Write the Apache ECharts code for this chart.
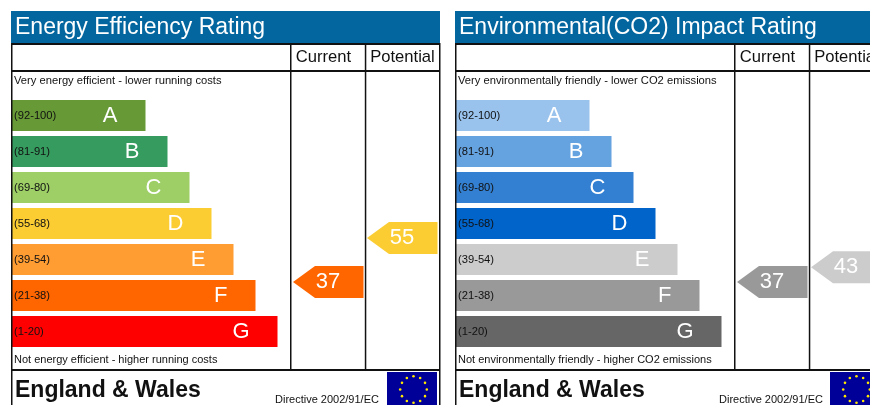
<!DOCTYPE html>
<html>
<head>
<meta charset="utf-8">
<style>
  html, body { margin: 0; padding: 0; background: #fff; overflow: hidden; }
  #chart { width: 870px; height: 405px; }
</style>
<script src="https://cdn.jsdelivr.net/npm/echarts@6/dist/echarts.min.js"></script>
</head>
<body>
<div id="chart"></div>
<script>
var font = '"Liberation Sans", Arial, sans-serif';

var ranges = ["(92-100)", "(81-91)", "(69-80)", "(55-68)", "(39-54)", "(21-38)", "(1-20)"];
var letters = ["A", "B", "C", "D", "E", "F", "G"];
var columns = ["Current", "Potential"];

var barLengths = [133.5, 155.5, 177.5, 199.5, 221.5, 243.5, 265.5];

var energyColors = ["#679a37", "#359b5e", "#9dcf66", "#fccd33", "#ff9d33", "#ff6600", "#ff0000"];
var impactColors = ["#99c3ed", "#65a2e0", "#3380d3", "#0064cb", "#cccccc", "#999999", "#666666"];

var energyScores = [37, 55];
var impactScores = [37, 43];
var energyScoreColors = ["#ff6600", "#fccd33"];
var impactScoreColors = ["#999999", "#cccccc"];

var energyTitle = "Energy Efficiency Rating";
var impactTitle = "Environmental(CO2) Impact Rating";
var energyTop = "Very energy efficient - lower running costs";
var energyBottom = "Not energy efficient - higher running costs";
var impactTop = "Very environmentally friendly - lower CO2 emissions";
var impactBottom = "Not environmentally friendly - higher CO2 emissions";
var country = "England & Wales";
var directive = "Directive 2002/91/EC";

var lineColor = "#111";

var myChart = echarts.init(document.getElementById("chart"));

function rect(x, y, w, h, fill, z) {
  return { type: "rect", silent: true, z: z || 10, shape: { x: x, y: y, width: w, height: h }, style: { fill: fill } };
}

function text(x, y, str, size, weight, fill) {
  return {
    type: "text", silent: true, z: 20, x: x, y: y,
    style: {
      text: str, fill: fill || "#111", font: (weight || "normal") + " " + size + "px " + font,
      textVerticalAlign: "middle"
    }
  };
}

// everything round the bars: heading band, table lines, captions and the flag
function panelGraphics(dx, title, topText, bottomText) {
  var right = dx === 0 ? 440 : 872;
  var list = [
    rect(11 + dx, 11, right - 11 - dx, 32, "#03669f"),
    rect(11 + dx, 43, right - 11 - dx, 2, lineColor),
    rect(11 + dx, 70, right - 11 - dx, 2, lineColor),
    rect(11 + dx, 369, right - 11 - dx, 2, lineColor),
    rect(11 + dx, 43, 1.5, 362, lineColor),
    rect(290 + dx, 43, 1.5, 327, lineColor),
    rect(364.8 + dx, 43, 1.5, 327, lineColor),
    text(15 + dx, 27.5, title, 23, "normal", "#fff"),
    text(14 + dx, 81, topText, 11.2),
    text(14 + dx, 360, bottomText, 11),
    text(15 + dx, 391, country, 23, "bold"),
    text(275 + dx, 399.5, directive, 11),
    rect(387 + dx - (dx ? 1 : 0), 372, 50, 34, "#000099")
  ];
  if (dx === 0) {
    list.push(rect(439, 43, 1.5, 362, lineColor));
  }
  var cx = 413.5 + dx - (dx ? 1 : 0), cy = 389.5;
  for (var i = 0; i < 12; i++) {
    var a = i * Math.PI / 6;
    list.push({
      type: "circle", silent: true, z: 20,
      shape: { cx: cx + 13.3 * Math.sin(a), cy: cy - 13.3 * Math.cos(a), r: 1.3 },
      style: { fill: "#ffe600" }
    });
  }
  return list;
}

function barSeries(index, colors) {
  return {
    type: "bar",
    xAxisIndex: index,
    yAxisIndex: index,
    barWidth: 31,
    silent: true,
    data: barLengths.map(function (v, i) {
      return {
        value: v,
        itemStyle: { color: colors[i] },
        label: { formatter: letters[i] }
      };
    }),
    label: {
      show: true,
      position: "insideRight",
      distance: 28,
      color: "#fff",
      fontFamily: font,
      fontSize: 22
    }
  };
}

// arrow pointing left, placed from the score axis of the column grid
function arrowSeries(index, scores, colors) {
  return {
    type: "custom",
    xAxisIndex: index,
    yAxisIndex: index,
    silent: true,
    clip: false,
    data: scores.map(function (s, i) { return [i, s]; }),
    renderItem: function (params, api) {
      var p = api.coord([api.value(0), api.value(1)]);
      return {
        type: "group",
        children: [
          {
            type: "polygon",
            shape: {
              points: [
                [p[0] - 35, p[1]],
                [p[0] - 13, p[1] - 16],
                [p[0] + 35.5, p[1] - 16],
                [p[0] + 35.5, p[1] + 16],
                [p[0] - 13, p[1] + 16]
              ]
            },
            style: { fill: colors[params.dataIndex] }
          },
          {
            type: "text",
            x: p[0],
            y: p[1],
            style: {
              text: String(api.value(1)),
              fill: "#fff",
              font: "22px " + font,
              textAlign: "center",
              textVerticalAlign: "middle"
            }
          }
        ]
      };
    }
  };
}

// Current sits a little left of the middle of its column in the reference
function columnAxis(gridIndex) {
  return {
    gridIndex: gridIndex, type: "category", position: "top",
    data: [
      { value: columns[0], textStyle: { padding: [0, 9, 0, 0] } },
      { value: columns[1], textStyle: { padding: [0, 0, 0, 1] } }
    ],
    axisLine: { show: false }, axisTick: { show: false },
    axisLabel: { margin: 6, color: "#111", fontFamily: font, fontSize: 16.6, interval: 0, hideOverlap: false }
  };
}

function rangeAxis(gridIndex) {
  return {
    gridIndex: gridIndex, type: "category", data: ranges, inverse: true, z: 5,
    axisLine: { show: false }, axisTick: { show: false },
    axisLabel: { inside: true, margin: 2, color: "#111", fontFamily: font, fontSize: 11.2, interval: 0 }
  };
}

var option = {
  animation: false,
  backgroundColor: "#fff",
  grid: [
    { left: 12, top: 97.5, width: 278, height: 252, outerBoundsMode: "none" },
    { left: 456, top: 97.5, width: 278, height: 252, outerBoundsMode: "none" },
    { left: 291, top: 72, width: 148, height: 297, outerBoundsMode: "none" },
    { left: 735, top: 72, width: 148, height: 297, outerBoundsMode: "none" }
  ],
  xAxis: [
    { gridIndex: 0, type: "value", min: 0, max: 278, show: false },
    { gridIndex: 1, type: "value", min: 0, max: 278, show: false },
    columnAxis(2),
    columnAxis(3)
  ],
  yAxis: [
    rangeAxis(0),
    rangeAxis(1),
    { gridIndex: 2, type: "value", min: 1.4, max: 122.9, show: false },
    { gridIndex: 3, type: "value", min: 1.4, max: 122.9, show: false }
  ],
  graphic: panelGraphics(0, energyTitle, energyTop, energyBottom)
    .concat(panelGraphics(444, impactTitle, impactTop, impactBottom)),
  series: [
    barSeries(0, energyColors),
    barSeries(1, impactColors),
    arrowSeries(2, energyScores, energyScoreColors),
    arrowSeries(3, impactScores, impactScoreColors)
  ]
};

myChart.setOption(option);
</script>
</body>
</html>
